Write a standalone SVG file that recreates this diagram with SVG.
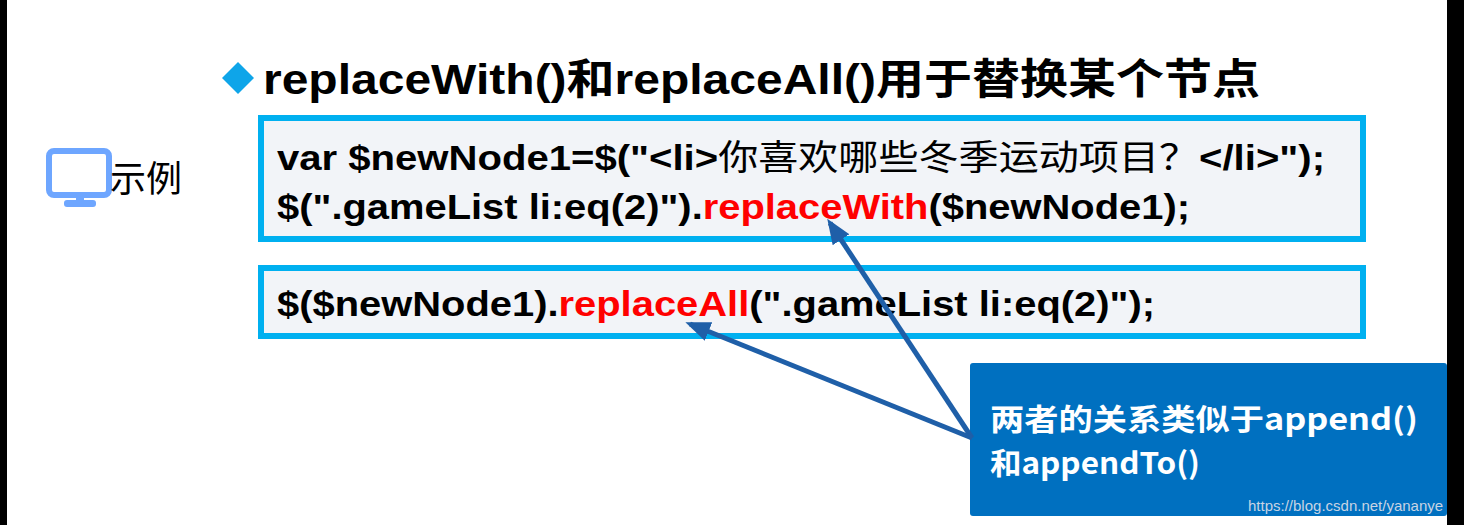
<svg xmlns="http://www.w3.org/2000/svg" width="1464" height="525" viewBox="0 0 1464 525">
<style>
.code{font-family:"Liberation Sans","Noto Sans CJK SC",sans-serif;font-weight:bold;font-size:35px;fill:#000}
.red{fill:#ff0000}
.box{fill:#f2f4f8;stroke:#00b0f0;stroke-width:6}
</style>
<defs>
<marker id="ah" markerWidth="5" markerHeight="4" refX="4" refY="2" orient="auto" markerUnits="strokeWidth"><path d="M0,0L5,2L0,4z" fill="#1f5fa8"/></marker>
</defs>
<rect width="1464" height="525" fill="#fff"/>
<rect x="0" y="0" width="7" height="525" fill="#000"/>
<rect x="1447" y="0" width="17" height="525" fill="#000"/>
<g id="title">
<path d="M238,62L254,78L238,94L222,78z" fill="#0ea5e9"/>
<text x="263" y="94" font-family="Liberation Sans,'Noto Sans CJK SC',sans-serif" font-weight="bold" font-size="42" textLength="997" lengthAdjust="spacingAndGlyphs">replaceWith()和replaceAll()用于替换某个节点</text>
</g>
<g id="example">
<rect x="49" y="151" width="60" height="44" rx="5" fill="none" stroke="#6ea6ff" stroke-width="6"/>
<rect x="64" y="200" width="32" height="7" rx="3" fill="#6ea6ff"/>
<rect x="76" y="193" width="8" height="8" fill="#6ea6ff"/>
<text x="110" y="192" font-family="'Noto Sans CJK SC',sans-serif" font-size="36">示例</text>
</g>
<g id="code1">
<rect class="box" x="261" y="118" width="1102" height="121"/>
<text class="code" x="277" y="170" textLength="1048" lengthAdjust="spacingAndGlyphs">var $newNode1=$("&lt;li&gt;<tspan font-weight="normal">你喜欢哪些冬季运动项目？</tspan>&lt;/li&gt;");</text>
<text class="code" x="277" y="219" textLength="913" lengthAdjust="spacingAndGlyphs">$(".gameList li:eq(2)").<tspan class="red">replaceWith</tspan>($newNode1);</text>
</g>
<g id="code2">
<rect class="box" x="261" y="268" width="1102" height="68"/>
<text class="code" x="277" y="316" textLength="878" lengthAdjust="spacingAndGlyphs">$($newNode1).<tspan class="red">replaceAll</tspan>(".gameList li:eq(2)");</text>
</g>
<g id="note">
<rect x="970" y="363" width="477" height="153" rx="3" fill="#0070c0"/>
<text font-family="'Noto Sans CJK SC',sans-serif" font-weight="bold" font-size="30" fill="#fff"><tspan x="990" y="430" textLength="428" lengthAdjust="spacingAndGlyphs">两者的关系类似于append()</tspan><tspan x="990" y="474" textLength="210" lengthAdjust="spacingAndGlyphs">和appendTo()</tspan></text>
<text x="1248" y="511" font-family="Liberation Sans,sans-serif" font-size="15" fill="#c8d4e4">https://blog.csdn.net/yananye</text>
</g>
<g id="connectors" stroke="#1f5fa8" stroke-width="5" fill="none">
<line x1="972" y1="438" x2="830" y2="223" marker-end="url(#ah)"/>
<line x1="972" y1="438" x2="690" y2="324" marker-end="url(#ah)"/>
</g>
</svg>
